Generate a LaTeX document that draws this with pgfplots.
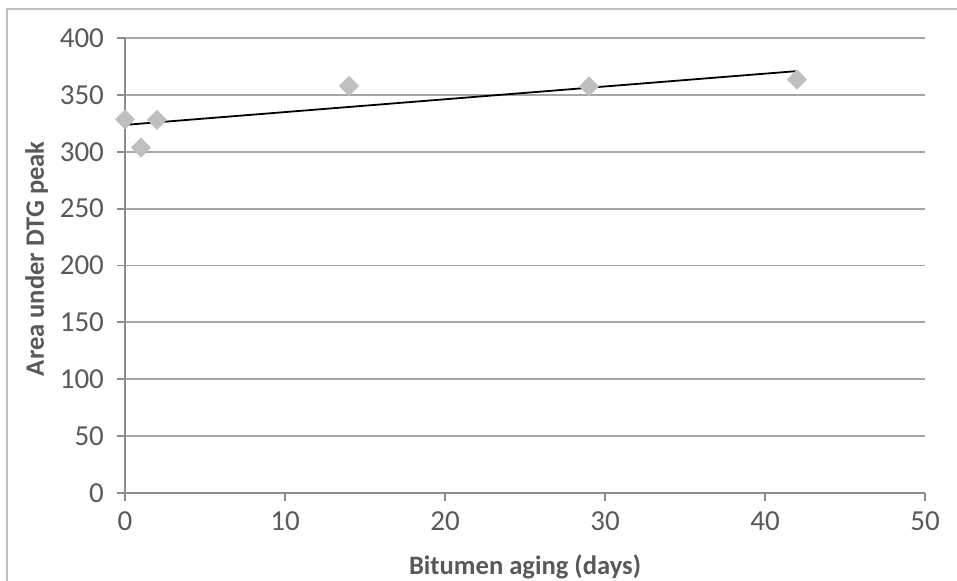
\documentclass[border=0pt]{standalone}
\usepackage{pgfplots}
\pgfplotsset{compat=1.18}
\usepackage{fontspec}
\setmainfont{Carlito}
\definecolor{gridc}{HTML}{A6A6A6}
\definecolor{axc}{HTML}{8C8C8C}
\definecolor{txt}{HTML}{595959}
\definecolor{mk}{HTML}{BFBFBF}
\begin{document}
\begin{tikzpicture}
\useasboundingbox (0,0) rectangle (478.5pt,290.5pt);
\draw[color=mk, line width=0.9pt] (3.5pt,-20pt) -- (3.5pt,286pt) -- (520pt,286pt);
\begin{axis}[
  at={(62.5pt,44pt)}, anchor=south west,
  scale only axis, width=400pt, height=227.5pt,
  xmin=0, xmax=50, ymin=0, ymax=400,
  xtick={0,10,...,50}, ytick={0,50,...,400},
  axis lines*=left,
  axis line style={color=axc, line width=0.9pt},
  ymajorgrids, major grid style={color=gridc, line width=0.9pt},
  tick align=outside, major tick length=4pt,
  tick style={color=axc, line width=0.9pt},
  x axis line style={-}, y axis line style={-},
  /pgf/number format/assume math mode=true,
  ticklabel style={font=\fontsize{14.5}{16}\selectfont, text=txt},
  xticklabel style={yshift=-2pt},
  yticklabel style={xshift=-3pt},
  xlabel={\textbf{Bitumen aging (days)}},
  ylabel={\textbf{Area under DTG peak}},
  label style={font=\fontsize{13.3}{15}\selectfont\bfseries, text=txt},
  xlabel style={yshift=-5pt},
  ylabel style={at={(ticklabel cs:0.515)}, yshift=-1pt},
  clip=false,
]
\addplot[only marks, mark=square*, mark size=3.35pt, mark options={rotate=45, fill=mk, draw=mk}]
  coordinates {(0,328.5) (1,303.6) (2,328) (14,357.8) (29,357.5) (42,363.5)};
\addplot[black, line width=0.9pt] coordinates {(0,323.6) (42,370.9)};
\end{axis}
\end{tikzpicture}
\end{document}
